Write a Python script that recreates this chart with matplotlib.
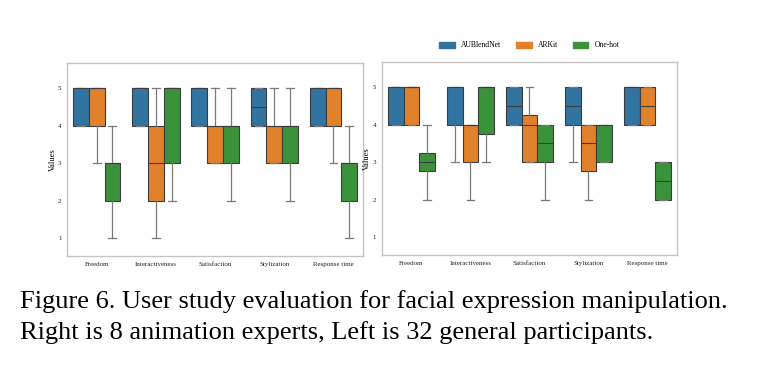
import numpy as np
import matplotlib
matplotlib.use('Agg')
import matplotlib.pyplot as plt
from matplotlib.patches import Patch

plt.rcParams['font.family'] = ['Liberation Serif', 'DejaVu Serif']

categories = ['Freedom', 'Interactiveness', 'Satisfaction', 'Stylization', 'Response time']
methods = ['AUBlendNet', 'ARKit', 'One-hot']
colors = ['#3274a1', '#e1812c', '#3a923a']

# box stats per method: (whislo, q1, med, q3, whishi), one tuple per category
# left panel: 32 general participants
general = {
    'AUBlendNet': [(4, 4, 5, 5, 5), (4, 4, 5, 5, 5), (4, 4, 5, 5, 5), (4, 4, 4.5, 5, 5), (4, 4, 5, 5, 5)],
    'ARKit':      [(3, 4, 5, 5, 5), (1, 2, 3, 4, 5), (3, 3, 4, 4, 5), (3, 3, 4, 4, 5), (3, 4, 5, 5, 5)],
    'One-hot':    [(1, 2, 3, 3, 4), (2, 3, 5, 5, 5), (2, 3, 4, 4, 5), (2, 3, 4, 4, 5), (1, 2, 3, 3, 4)],
}
# right panel: 8 animation experts
experts = {
    'AUBlendNet': [(4, 4, 5, 5, 5), (3, 4, 5, 5, 5), (4, 4, 4.5, 5, 5), (3, 4, 4.5, 5, 5), (4, 4, 5, 5, 5)],
    'ARKit':      [(4, 4, 5, 5, 5), (2, 3, 4, 4, 4), (3, 3, 4, 4.25, 5), (2, 2.75, 3.5, 4, 4), (4, 4, 4.5, 5, 5)],
    'One-hot':    [(2, 2.75, 3, 3.25, 4), (3, 3.75, 5, 5, 5), (2, 3, 3.5, 4, 4), (3, 3, 4, 4, 4), (2, 2, 2.5, 3, 3)],
}

caption = ('Figure 6. User study evaluation for facial expression manipulation.\n'
           'Right is 8 animation experts, Left is 32 general participants.')

fig = plt.figure(figsize=(7.84, 3.78), dpi=100)
ax_l = fig.add_axes([0.0855, 0.3228, 0.3776, 0.5106])
ax_r = fig.add_axes([0.4872, 0.3254, 0.3763, 0.5106])

width = 0.8 / len(methods)
edge = '#3d3d3d'
whisk = '#7a7a7a'


def draw(ax, data):
    for j, m in enumerate(methods):
        stats = []
        for lo, q1, med, q3, hi in data[m]:
            stats.append(dict(whislo=lo, q1=q1, med=med, q3=q3, whishi=hi, fliers=[]))
        pos = np.arange(len(categories)) + (j - 1) * width
        ax.bxp(stats, positions=pos, widths=width, patch_artist=True, manage_ticks=False,
               boxprops=dict(facecolor=colors[j], edgecolor=edge, linewidth=0.8),
               medianprops=dict(color=edge, linewidth=0.8),
               whiskerprops=dict(color=whisk, linewidth=0.9),
               capprops=dict(color=whisk, linewidth=0.9),
               capwidths=width * 0.5)
    ax.set_xlim(-0.5, len(categories) - 0.5)
    ax.set_ylim(0.52, 5.67)
    ax.set_xticks(range(len(categories)))
    ax.set_xticklabels(categories, fontsize=5)
    ax.set_yticks([1, 2, 3, 4, 5])
    ax.tick_params(axis='both', length=0, labelsize=5, pad=4, colors='#222222')
    ax.set_ylabel('Values', fontsize=6, labelpad=1)
    for s in ax.spines.values():
        s.set_color('#c4c4c4')
        s.set_linewidth(1.0)


draw(ax_l, general)
draw(ax_r, experts)

handles = [Patch(facecolor=c, edgecolor=c) for c in colors]
ax_r.legend(handles, methods, loc='lower center', bbox_to_anchor=(0.5, 1.03), ncol=3,
            frameon=False, fontsize=5.5, handlelength=2.0, handleheight=0.9,
            columnspacing=2.0, handletextpad=0.8)

fig.text(0.0255, 0.232, caption, fontsize=19, va='top', ha='left', linespacing=1.45)

fig.savefig('out.png', dpi=100)
